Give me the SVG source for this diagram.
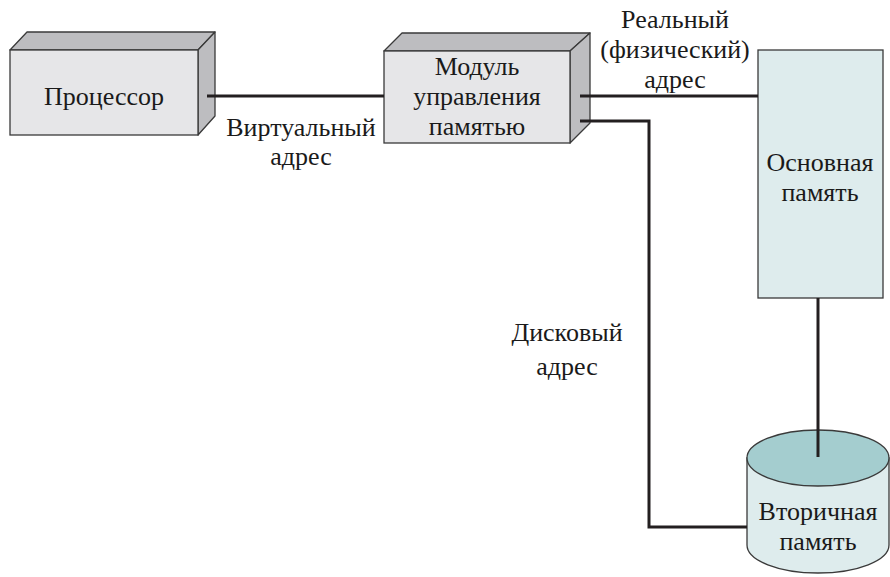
<svg xmlns="http://www.w3.org/2000/svg" width="890" height="577" viewBox="0 0 890 577">
<style>
.t{font-family:'Liberation Serif',serif !important;font-size:26px;fill:#1a1a1a;text-anchor:middle}
.front{fill:#e6e6e8;stroke:#3a3a3a;stroke-width:1.3}
.side{fill:#bdbdc0;stroke:#3a3a3a;stroke-width:1.3;stroke-linejoin:round}
.mem{fill:#deeced;stroke:#3a3a3a;stroke-width:1.3}
.cap{fill:#a4cdcf;stroke:#3a3a3a;stroke-width:1.3}
.conn{fill:none;stroke:#231f20;stroke-width:3}
</style>
<rect width="890" height="577" fill="#ffffff"/>
<g id="cpu">
<polygon class="side" points="10,50 27,32 215,32 198,50"/>
<polygon class="side" points="198,50 215,32 215,116 198,135"/>
<rect class="front" x="10" y="50" width="188" height="85"/>
<text class="t" style="font-family:'Liberation Serif',serif !important" x="104" y="105">Процессор</text>
</g>
<g id="mmu">
<polygon class="side" points="384,51 402,33 590,33 570,51"/>
<polygon class="side" points="570,51 590,33 590,123 570,143"/>
<rect class="front" x="384" y="51" width="186" height="92"/>
<text class="t" style="font-family:'Liberation Serif',serif !important" x="477" y="75">Модуль</text>
<text class="t" style="font-family:'Liberation Serif',serif !important" x="477" y="105">управления</text>
<text class="t" style="font-family:'Liberation Serif',serif !important" x="477" y="135">памятью</text>
</g>
<g id="main-memory">
<rect class="mem" x="758" y="50" width="125" height="248"/>
<text class="t" style="font-family:'Liberation Serif',serif !important" x="820" y="171">Основная</text>
<text class="t" style="font-family:'Liberation Serif',serif !important" x="820" y="201">память</text>
</g>
<g id="secondary-memory">
<path class="mem" d="M747,458 L747,545 A71,28 0 0 0 889,545 L889,458 Z"/>
<ellipse class="cap" cx="818" cy="458" rx="71" ry="28"/>
<text class="t" style="font-family:'Liberation Serif',serif !important" x="818" y="520">Вторичная</text>
<text class="t" style="font-family:'Liberation Serif',serif !important" x="818" y="550">память</text>
</g>
<g id="connectors">
<line class="conn" x1="207" y1="96" x2="384" y2="96"/>
<line class="conn" x1="580" y1="96" x2="758" y2="96"/>
<polyline class="conn" points="580,121 649,121 649,527 747,527"/>
<line class="conn" x1="818" y1="298" x2="818" y2="457"/>
</g>
<g id="labels">
<text class="t" style="font-family:'Liberation Serif',serif !important" x="301" y="136">Виртуальный</text>
<text class="t" style="font-family:'Liberation Serif',serif !important" x="301" y="165">адрес</text>
<text class="t" style="font-family:'Liberation Serif',serif !important" x="675" y="28">Реальный</text>
<text class="t" style="font-family:'Liberation Serif',serif !important" x="675" y="58">(физический)</text>
<text class="t" style="font-family:'Liberation Serif',serif !important" x="675" y="88">адрес</text>
<text class="t" style="font-family:'Liberation Serif',serif !important" x="567" y="341">Дисковый</text>
<text class="t" style="font-family:'Liberation Serif',serif !important" x="567" y="375">адрес</text>
</g>
</svg>
